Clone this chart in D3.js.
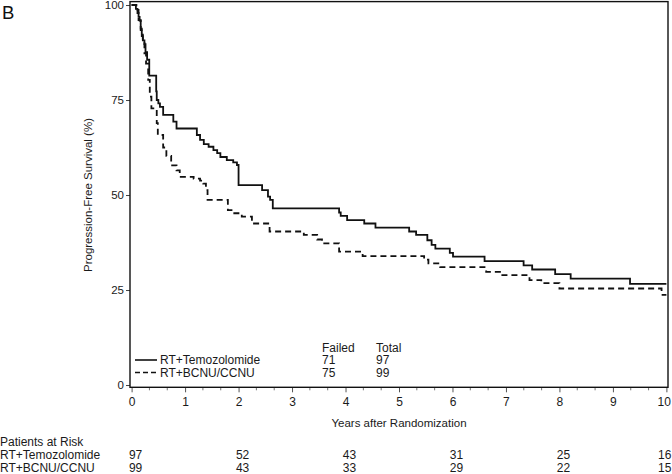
<!DOCTYPE html>
<html>
<head>
<meta charset="utf-8">
<script src="https://cdn.jsdelivr.net/npm/d3@7"></script>
<style>
  html, body { margin: 0; padding: 0; background: #fff; }
  svg { display: block; font-family: "Liberation Sans", Arial, sans-serif; }
</style>
</head>
<body>
<svg id="chart" width="672" height="474"></svg>
<script>
// ---------------- data ----------------
const xTickValues = [0, 1, 2, 3, 4, 5, 6, 7, 8, 9, 10];
const yTickValues = [0, 25, 50, 75, 100];

const seriesNames = ["RT+Temozolomide", "RT+BCNU/CCNU"];
const failedCounts = [71, 75];
const totalCounts = [97, 99];

// Kaplan-Meier step points (years, % progression-free)
const tmzTimes = [0, 0.08, 0.11, 0.13, 0.15, 0.17, 0.19, 0.21, 0.24, 0.26, 0.29, 0.33, 0.46, 0.47, 0.50, 0.53, 0.59, 0.78, 0.84,
  1.22, 1.28, 1.35, 1.44, 1.53, 1.60, 1.66, 1.78, 1.90, 1.97, 2.00, 2.44, 2.55, 2.59, 2.64,
  3.88, 3.91, 4.03, 4.35, 4.56, 5.19, 5.32, 5.53, 5.61, 5.68, 5.95, 6.01, 6.60, 7.33, 7.49, 7.92, 8.21, 9.32, 10.0];
const tmzSurv = [100, 99, 97.9, 96.9, 95.9, 93.8, 91.8, 90.7, 89.7, 87.6, 85.6, 81.4, 77.3, 75, 74.1, 73.2, 71.1, 69.3, 67.5,
  65.8, 64.5, 63.4, 62.7, 61.8, 61, 60, 59.2, 58.6, 57.9, 52.6, 51.3, 49.6, 48.7, 46.5,
  45.4, 44.5, 43.4, 42.5, 41.4, 40.4, 39.5, 38.1, 36.9, 35.9, 34.8, 33.8, 32.6, 31.5, 30.4, 29.2, 28.0, 26.6, 26.6];

const bcnuTimes = [0, 0.09, 0.13, 0.17, 0.21, 0.24, 0.27, 0.31, 0.34, 0.37, 0.47, 0.49, 0.59, 0.65, 0.74, 0.84, 0.90,
  1.16, 1.28, 1.34, 1.39, 1.42, 1.80, 1.90, 2.06, 2.25, 2.58, 3.22, 3.47, 3.56, 3.88, 4.32,
  5.47, 5.55, 5.77, 6.63, 6.91, 7.44, 7.66, 8.00, 9.91, 10.0];
const bcnuSurv = [100, 98.7, 96, 93.4, 90.8, 87.3, 84.6, 80.3, 75.9, 72.8, 68.9, 65.8, 62.5, 60.3, 57.8, 56.5, 54.8,
  54.3, 53.8, 53, 51.3, 48.7, 46.0, 45.2, 44.3, 42.5, 40.4, 39.5, 38.3, 37.3, 35.1, 33.9,
  33.0, 32.0, 31.0, 29.8, 28.9, 27.6, 26.8, 25.4, 23.7, 23.7];

const riskTimes = [0, 2, 4, 6, 8, 10];
const riskTmz = [97, 52, 43, 31, 25, 16];
const riskBcnu = [99, 43, 33, 29, 22, 15];

// ---------------- drawing ----------------
const svg = d3.select("#chart");
const ink = "#111";
const textInk = "#1a1a1a";

const x = d3.scaleLinear().domain([-0.03, 10.03]).range([130, 668]);
const y = d3.scaleLinear().domain([-0.6, 100.9]).range([387.3, 1.6]);

const [fx0, fx1] = x.range();
const [fy1, fy0] = y.range();

// panel label
svg.append("text").attr("x", 2).attr("y", 18.5)
  .attr("font-size", 18.5).attr("fill", ink).text("B");

// y axis
const yAxis = svg.append("g").attr("transform", `translate(${fx0},0)`)
  .call(d3.axisLeft(y).tickValues(yTickValues).tickSize(4).tickPadding(2));
yAxis.select(".domain").remove();
yAxis.selectAll("text").attr("font-size", 11.5).attr("fill", textInk)
  .attr("font-family", '"Liberation Sans", Arial, sans-serif');
yAxis.selectAll("line").attr("stroke", "#444");

// x axis major ticks
const xAxis = svg.append("g").attr("transform", `translate(0,${fy1})`)
  .call(d3.axisBottom(x).tickValues(xTickValues).tickSize(5).tickPadding(5).tickFormat(d3.format("d")));
xAxis.select(".domain").remove();
xAxis.selectAll("text").attr("font-size", 12).attr("fill", textInk)
  .attr("font-family", '"Liberation Sans", Arial, sans-serif')
  .attr("text-anchor", d => d === 10 ? "end" : "middle")
  .attr("dx", d => d === 10 ? "4" : "0");
xAxis.selectAll("line").attr("stroke", "#555");

// x axis minor ticks (every 4 months)
const minor = d3.range(0, 30).filter(i => i % 3 !== 0).map(i => i / 3);
svg.append("g").selectAll("line").data(minor).join("line")
  .attr("x1", d => x(d)).attr("x2", d => x(d))
  .attr("y1", fy1).attr("y2", fy1 + 3)
  .attr("stroke", "#777").attr("stroke-width", 1);

// axis titles
svg.append("text")
  .attr("transform", `translate(92,${y(50)}) rotate(-90)`)
  .attr("text-anchor", "middle").attr("font-size", 11.5).attr("fill", textInk)
  .text("Progression-Free Survival (%)");

svg.append("text")
  .attr("x", x(5)).attr("y", 427)
  .attr("text-anchor", "middle").attr("font-size", 11.5).attr("fill", textInk)
  .text("Years after Randomization");

// KM curves
const line = d3.line().curve(d3.curveStepAfter)
  .x(d => x(d[0])).y(d => y(d[1]));

const tmzPts = tmzTimes.map((t, i) => [t, tmzSurv[i]]);
const bcnuPts = bcnuTimes.map((t, i) => [t, bcnuSurv[i]]);

svg.append("path").datum(bcnuPts).attr("d", line)
  .attr("fill", "none").attr("stroke", ink).attr("stroke-width", 1.8)
  .attr("stroke-dasharray", "6,4");
svg.append("path").datum(tmzPts).attr("d", line)
  .attr("fill", "none").attr("stroke", ink).attr("stroke-width", 1.8);

// frame
svg.append("rect")
  .attr("x", fx0).attr("y", fy0).attr("width", fx1 - fx0).attr("height", fy1 - fy0)
  .attr("fill", "none").attr("stroke", ink).attr("stroke-width", 1.4);

// legend
const legendRows = [360, 372.5];
const dashes = [null, "5,3"];
svg.append("text").attr("x", 322).attr("y", 351.5).attr("font-size", 12).attr("fill", textInk).text("Failed");
svg.append("text").attr("x", 376).attr("y", 351.5).attr("font-size", 12).attr("fill", textInk).text("Total");
seriesNames.forEach((name, i) => {
  const yy = legendRows[i];
  svg.append("line").attr("x1", 135).attr("x2", 157).attr("y1", yy).attr("y2", yy)
    .attr("stroke", ink).attr("stroke-width", 1.6)
    .attr("stroke-dasharray", dashes[i]);
  svg.append("text").attr("x", 160).attr("y", yy + 4.2).attr("font-size", 12).attr("fill", textInk).text(name);
  svg.append("text").attr("x", 322).attr("y", yy + 4.2).attr("font-size", 12).attr("fill", textInk).text(failedCounts[i]);
  svg.append("text").attr("x", 376).attr("y", yy + 4.2).attr("font-size", 12).attr("fill", textInk).text(totalCounts[i]);
});

// patients at risk table
svg.append("text").attr("x", 0).attr("y", 445.5).attr("font-size", 12).attr("fill", textInk).text("Patients at Risk");
const riskRows = [[seriesNames[0], riskTmz, 459], [seriesNames[1], riskBcnu, 471.5]];
riskRows.forEach(([name, vals, yy]) => {
  svg.append("text").attr("x", 0).attr("y", yy).attr("font-size", 12).attr("fill", textInk).text(name);
  svg.append("g").selectAll("text").data(vals).join("text")
    .attr("x", (d, i) => i === vals.length - 1 ? x(riskTimes[i]) + 5 : x(riskTimes[i]) + 4)
    .attr("y", yy)
    .attr("text-anchor", (d, i) => i === vals.length - 1 ? "end" : "middle")
    .attr("font-size", 12).attr("fill", textInk)
    .text(d => d);
});
</script>
</body>
</html>
